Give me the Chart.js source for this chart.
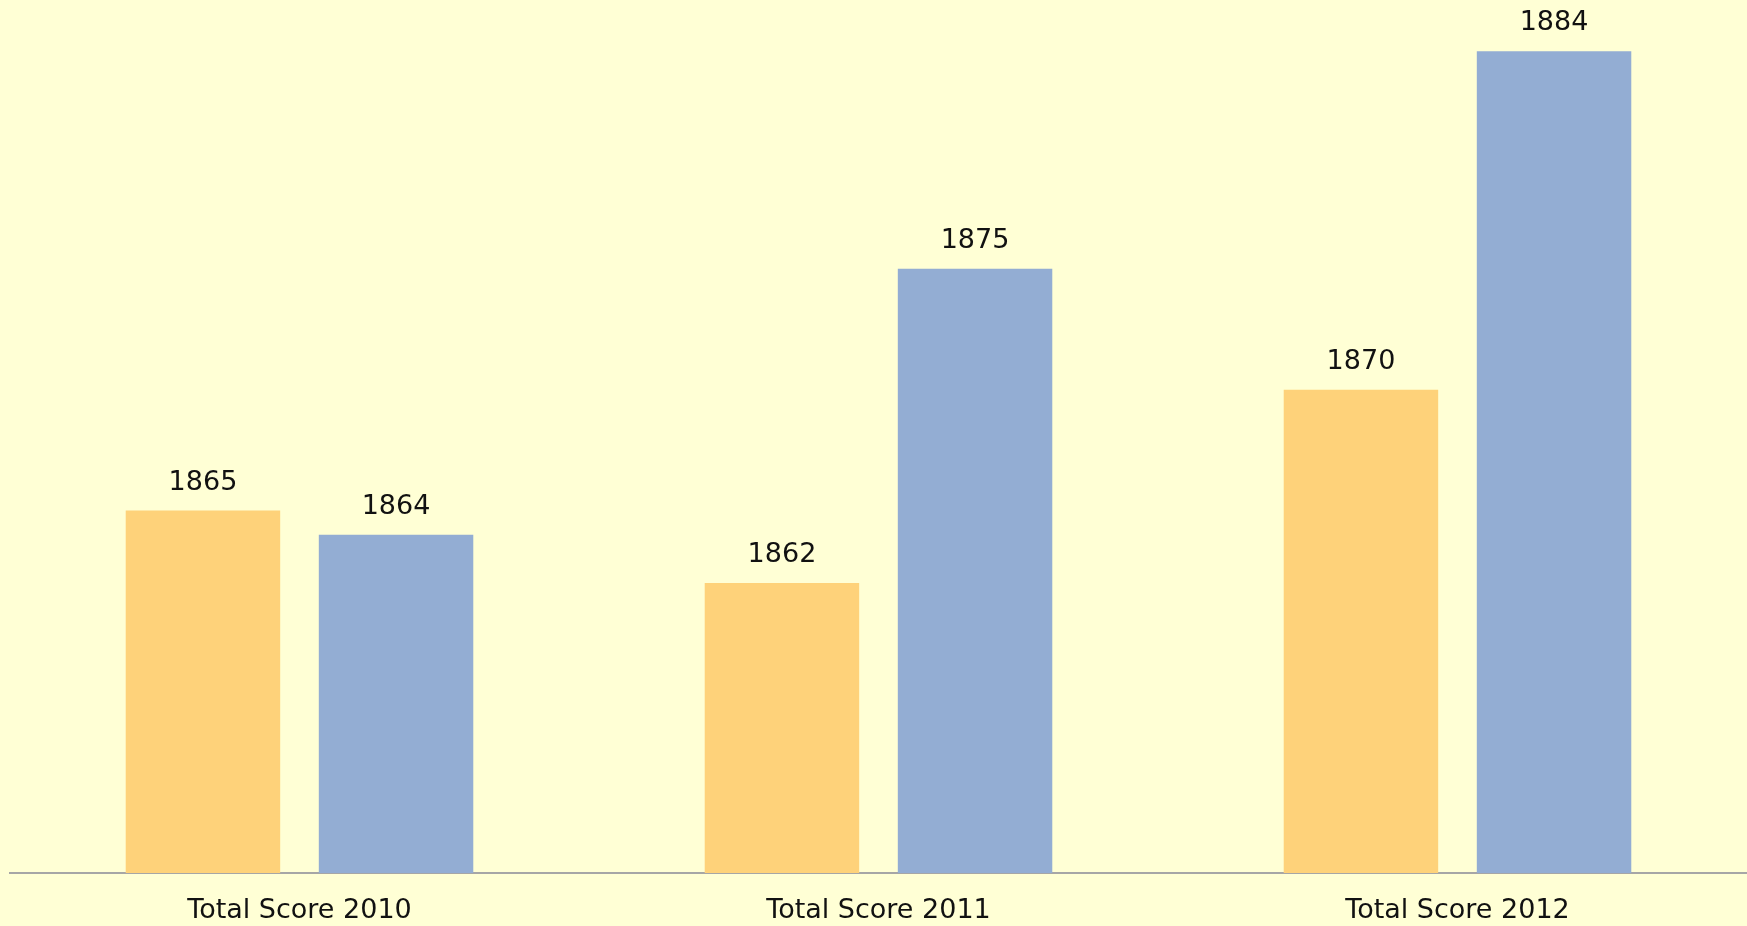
<!DOCTYPE html>
<html>
<head>
<meta charset="utf-8">
<script src="https://cdn.jsdelivr.net/npm/chart.js@4/dist/chart.umd.min.js"></script>
<style>
  html, body { margin: 0; padding: 0; background: #FFFFD5; overflow: hidden; }
  canvas { display: block; }
</style>
</head>
<body>
<canvas id="scoreChart" width="1747" height="926"></canvas>
<script>
const categories = ["Total Score 2010", "Total Score 2011", "Total Score 2012"];
const seriesA = [1865, 1862, 1870];
const seriesB = [1864, 1875, 1884];
const yMin = 1850;
const yMax = 1886;

const FONT = "'DejaVu Sans', Verdana, sans-serif";

// draws the value over each bar
const valueLabels = {
  id: "valueLabels",
  afterDatasetsDraw(chart) {
    const ctx = chart.ctx;
    ctx.save();
    ctx.font = "27px " + FONT;
    ctx.fillStyle = "#111";
    ctx.textAlign = "center";
    ctx.textBaseline = "middle";
    chart.data.datasets.forEach((ds, i) => {
      chart.getDatasetMeta(i).data.forEach((bar, j) => {
        ctx.fillText(ds.data[j], bar.x, bar.y - 28);
      });
    });
    ctx.restore();
  }
};

new Chart(document.getElementById("scoreChart"), {
  type: "bar",
  data: {
    labels: categories,
    datasets: [
      { data: seriesA, backgroundColor: "#FED27A" },
      { data: seriesB, backgroundColor: "#93ADD3" }
    ]
  },
  options: {
    responsive: false,
    animation: false,
    datasets: { bar: { categoryPercentage: 0.667, barPercentage: 0.8 } },
    layout: { padding: { left: 10, right: 0, top: 3, bottom: 0 } },
    plugins: { legend: { display: false }, tooltip: { enabled: false } },
    scales: {
      x: {
        grid: { display: false, drawTicks: false },
        border: { display: true, color: "#A6A6A6", width: 2 },
        ticks: {
          color: "#111",
          padding: 22,
          font: { family: FONT, size: 27 }
        },
        afterFit(scale) { scale.height = 53; }
      },
      y: { display: false, min: yMin, max: yMax }
    }
  },
  plugins: [valueLabels]
});
</script>
</body>
</html>
